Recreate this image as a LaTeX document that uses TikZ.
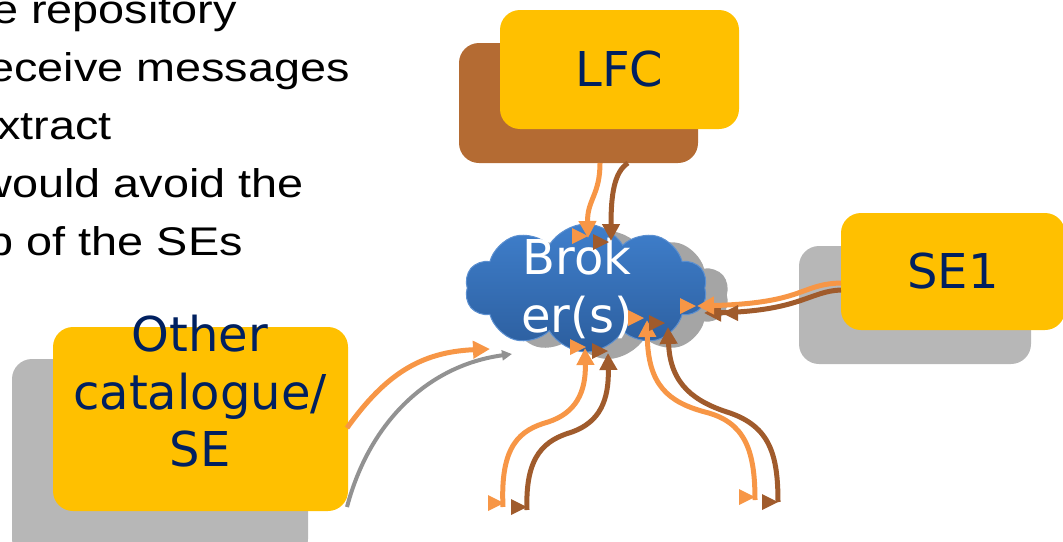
\documentclass[tikz,border=0pt]{standalone}
\usepackage{fontspec}
\setmainfont{Liberation Sans}
\newfontfamily\boxfont{DejaVu Sans}
\usetikzlibrary{shapes.symbols,arrows.meta}
\definecolor{boxyellow}{HTML}{FFC000}
\definecolor{navy}{HTML}{002060}
\definecolor{shadowgray}{HTML}{B7B7B7}
\definecolor{lfcbrown}{HTML}{B46B33}
\definecolor{arrorange}{HTML}{F79646}
\definecolor{arrbrown}{HTML}{A05B2C}
\definecolor{cloudtop}{HTML}{3F7FCC}
\definecolor{cloudbot}{HTML}{2C5E9E}
\definecolor{cloudedge}{HTML}{5B8FD0}
\newcommand\rtri[3]{\fill[#1] (#2,#3) ++(-8,-8) -- ++(16,8) -- ++(-16,8) -- cycle;}
\newcommand\ltri[3]{\fill[#1] (#2,#3) ++(8,-8) -- ++(-16,8) -- ++(16,8) -- cycle;}
\begin{document}
\begin{tikzpicture}[x=1pt,y=-1pt,
  bigtext/.style={font=\boxfont\fontsize{48}{57.5}\selectfont},
  ybox/.style={rectangle, fill=boxyellow, rounded corners=20pt, inner sep=0pt, text=navy, bigtext},
  sbox/.style={rectangle, fill=shadowgray, rounded corners=20pt, inner sep=0pt},
  lefttext/.style={anchor=base east, inner sep=0pt, font=\fontsize{40}{58}\selectfont},
  cloudshape/.style={cloud, cloud puffs=10, cloud puff arc=120, aspect=2, minimum width=242pt, minimum height=128pt, inner sep=0pt},
  oline/.style={draw=arrorange, line width=5pt},
  bline/.style={draw=arrbrown, line width=5pt},
  gline/.style={draw=shadowgray!80!black, line width=4pt},
  tip/.style={-{Triangle[length=17pt,width=17pt]}}
]
\useasboundingbox (0,0) rectangle (1063,541);
\clip (0,0) rectangle (1063,541);

% left text
\node[lefttext] (t1) at (237,23) {\scalebox{1.17}[1]{e repository}};
\node[lefttext] (t2) at (350,81) {\scalebox{1.17}[1]{eceive messages}};
\node[lefttext] (t3) at (112,139) {\scalebox{1.17}[1]{xtract}};
\node[lefttext] (t4) at (304,197) {\scalebox{1.17}[1]{would avoid the}};
\node[lefttext] (t5) at (243,255) {\scalebox{1.17}[1]{p of the SEs}};

% boxes
\node[rectangle, fill=lfcbrown, rounded corners=20pt, minimum width=239pt, minimum height=120pt] (lfcshadow) at (578.5,103) {};
\node[ybox, minimum width=239pt, minimum height=119pt] (lfc) at (619.5,69.5) {LFC};

\node[sbox, minimum width=232pt, minimum height=118pt] (se1shadow) at (915,305) {};
\node[ybox, minimum width=224pt, minimum height=117pt] (se1) at (953,271.5) {SE1};

\node[sbox, minimum width=296pt, minimum height=200pt] (othershadow) at (160,459) {};
\node[ybox, minimum width=295pt, minimum height=184pt] (other) at (200.5,419) {};
\node[bigtext, text=navy, align=center, inner sep=0pt] (othertext) at (200,391.5) {Other\\catalogue/\\SE};

% broker cloud
\node[cloudshape, fill=shadowgray!90!black] (brokershadow) at (608,295) {};
\node[cloudshape, top color=cloudtop, bottom color=cloudbot, draw=cloudedge, line width=1pt] (broker) at (586,288) {};
\node[bigtext, text=white, align=center, inner sep=0pt] (brokertext) at (577,288.5) {Brok\\er(s)};

% connector end points
\coordinate (lfcA) at (600,163);
\coordinate (lfcB) at (628,163);
\coordinate (brA) at (588,238);
\coordinate (brB) at (611,241);
\coordinate (se1A) at (841,283);
\coordinate (se1B) at (841,290);
\coordinate (brC) at (697,306);
\coordinate (brD) at (704,313);
\coordinate (othA) at (347,428);
\coordinate (othG) at (347,507);
\coordinate (brE) at (490,349);
\coordinate (brG) at (512,354);
\coordinate (dlA) at (503,507);
\coordinate (dlB) at (527,510);
\coordinate (brF) at (585,348);
\coordinate (brH) at (608,353);
\coordinate (drA) at (755,500);
\coordinate (drB) at (778,502);
\coordinate (brI) at (647,320);
\coordinate (brJ) at (668,327);

% pair A: LFC - broker
\draw[oline,tip] (lfcA) .. controls (600,195) and (587,200) .. (brA);
\draw[bline,tip] (lfcB) .. controls (614,172) and (611,195) .. (brB);
\rtri{arrorange}{580}{236}
\rtri{arrbrown}{601}{242}

% pair B: SE1 - broker
\draw[bline,tip] (se1B) .. controls (810,291) and (800,311) .. (brD);
\draw[oline,tip] (se1A) .. controls (800,284) and (805,303) .. (brC);
\ltri{arrbrown}{730}{313}
\rtri{arrorange}{688}{306}

% pair C: other catalogue - broker
\draw[gline,-{Triangle[length=10pt,width=10pt]}] (othG) .. controls (370,420) and (430,365) .. (brG);
\draw[oline,tip] (othA) .. controls (385,375) and (420,352) .. (brE);

% pair D: bottom left - broker
\draw[oline,tip] (dlA) .. controls (500,445) and (520,430) .. (548,422) .. controls (576,413) and (586,392) .. (brF);
\draw[bline,tip] (dlB) .. controls (525,455) and (545,440) .. (572,432) .. controls (600,422) and (609,400) .. (brH);
\rtri{arrorange}{578}{347}
\rtri{arrbrown}{600}{351}
\rtri{arrorange}{496}{503}
\rtri{arrbrown}{519}{507}

% pair E: bottom right - broker
\draw[oline,tip] (drA) .. controls (755,450) and (745,422) .. (705,412) .. controls (668,402) and (648,385) .. (brI);
\draw[bline,tip] (drB) .. controls (778,455) and (770,427) .. (730,413) .. controls (695,402) and (670,385) .. (brJ);
\rtri{arrorange}{636}{318}
\rtri{arrbrown}{657}{323}
\rtri{arrorange}{747}{497}
\rtri{arrbrown}{770}{502}
\end{tikzpicture}
\end{document}
